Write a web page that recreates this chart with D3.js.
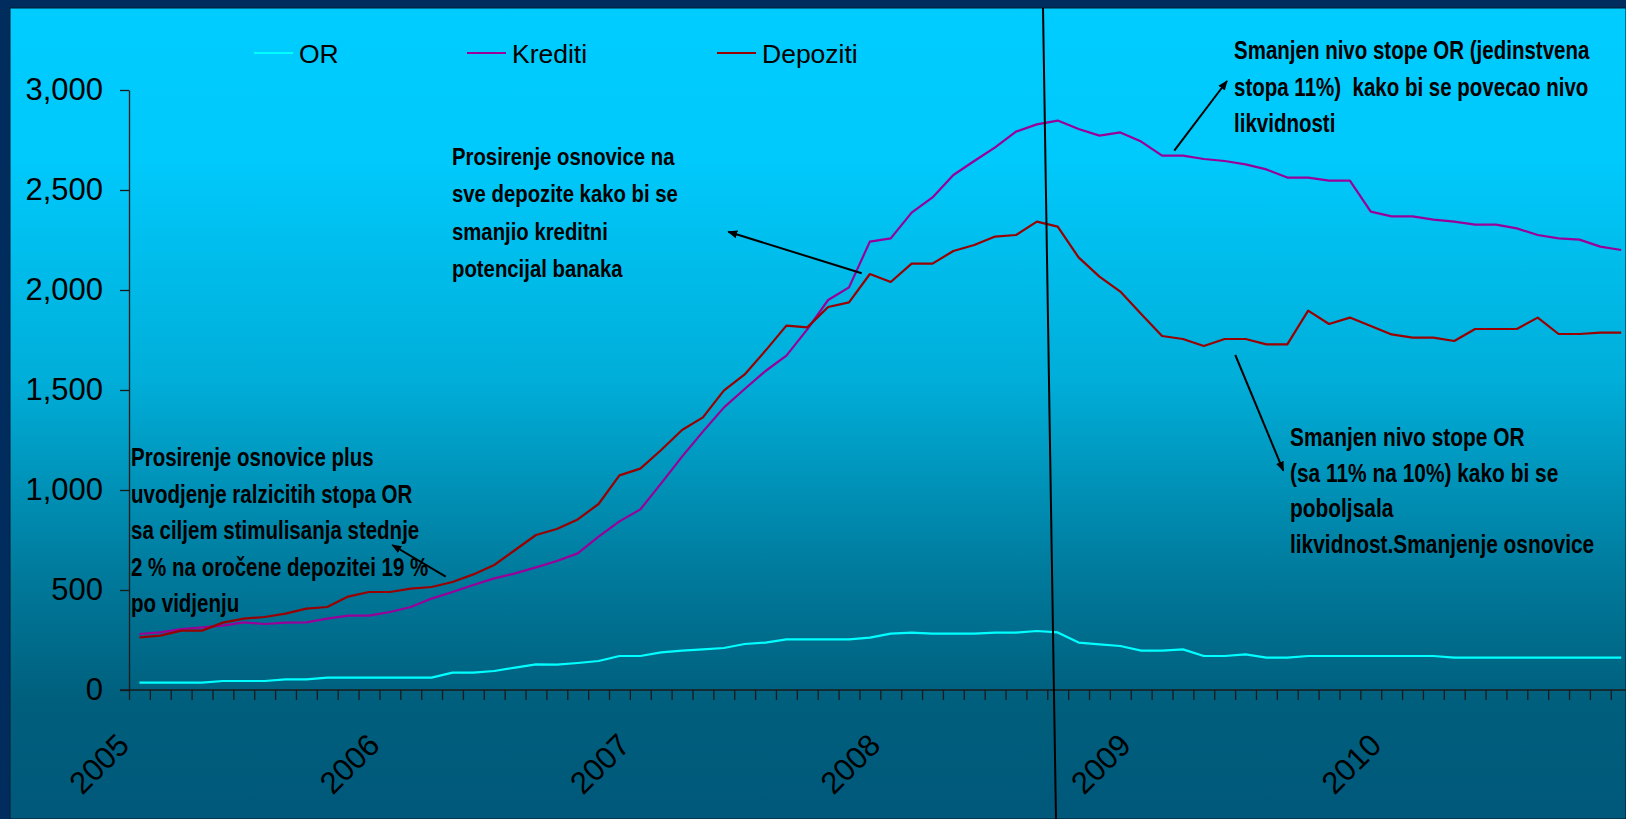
<!DOCTYPE html>
<html>
<head>
<meta charset="utf-8">
<script src="https://d3js.org/d3.v7.min.js"></script>
<style>
  html, body { margin: 0; padding: 0; background: #002d5e; overflow: hidden; }
  svg { display: block; }
  .ann { font-family: "Liberation Sans Narrow", "Liberation Sans", Arial, sans-serif; font-weight: bold; fill: #000; white-space: pre; }
  .reg { font-family: "Liberation Sans", Arial, sans-serif; fill: #000; }
</style>
</head>
<body>
<svg id="chart" width="1626" height="819"></svg>
<script>
// categories: monthly, Jan 2005 .. Dec 2010
const years = ['2005', '2006', '2007', '2008', '2009', '2010'];
const months = years.flatMap(y => d3.range(1, 13).map(m => y + '-' + String(m).padStart(2, '0')));

const orValues = [
  37, 37, 37, 37, 45, 45, 45, 53, 53, 62,
  62, 62, 62, 62, 62, 87, 87, 95, 112, 128,
  127, 135, 145, 170, 170, 188, 197, 203, 210, 230,
  237, 253, 253, 253, 253, 262, 282, 287, 282, 282,
  282, 287, 287, 295, 288, 237, 228, 220, 197, 197,
  203, 170, 170, 178, 162, 162, 170, 170, 170, 170,
  170, 170, 170, 162, 162, 162, 162, 162, 162, 162,
  162, 162
];
const krediti = [
  280, 288, 305, 313, 322, 338, 330, 337, 338, 357,
  372, 372, 390, 415, 457, 490, 525, 558, 583, 613,
  645, 683, 767, 843, 903, 1033, 1167, 1292, 1412, 1505,
  1595, 1672, 1803, 1950, 2013, 2242, 2258, 2387, 2463, 2575,
  2645, 2713, 2792, 2828, 2847, 2805, 2772, 2788, 2742, 2672,
  2672, 2655, 2645, 2628, 2603, 2562, 2562, 2547, 2547, 2392,
  2368, 2368, 2352, 2342, 2327, 2327, 2308, 2275, 2258, 2252,
  2217, 2200
];
const depoziti = [
  263, 272, 297, 297, 337, 357, 365, 382, 407, 415,
  467, 490, 490, 507, 515, 540, 578, 625, 700, 775,
  805, 853, 930, 1073, 1107, 1200, 1300, 1363, 1497, 1578,
  1697, 1822, 1813, 1915, 1938, 2080, 2040, 2132, 2132, 2195,
  2225, 2267, 2275, 2342, 2317, 2163, 2067, 1992, 1880, 1770,
  1755, 1720, 1755, 1755, 1728, 1728, 1897, 1830, 1862, 1820,
  1778, 1762, 1762, 1745, 1805, 1805, 1805, 1862, 1780, 1780,
  1787, 1787
];
const seriesNames = ['OR', 'Krediti', 'Depoziti'];
const seriesColors = ['#00ffff', '#990099', '#990000'];
const yTicks = [0, 500, 1000, 1500, 2000, 2500, 3000];

const annLeft = ['Prosirenje osnovice plus', 'uvodjenje ralzicitih stopa OR', 'sa ciljem stimulisanja stednje',
  '2 % na oročene depozitei 19 %', 'po vidjenju'];
const annMid = ['Prosirenje osnovice na', 'sve depozite kako bi se', 'smanjio kreditni', 'potencijal banaka'];
const annTopRight = ['Smanjen nivo stope OR (jedinstvena', 'stopa 11%)  kako bi se povecao nivo', 'likvidnosti'];
const annBottomRight = ['Smanjen nivo stope OR', '(sa 11% na 10%) kako bi se', 'poboljsala', 'likvidnost.Smanjenje osnovice'];

const W = 1626, H = 819;
const svg = d3.select('#chart');

// background: dark frame + gradient panel
const defs = svg.append('defs');
const grad = defs.append('linearGradient').attr('id', 'bg')
  .attr('gradientUnits', 'userSpaceOnUse').attr('x1', 0).attr('y1', 8).attr('x2', 0).attr('y2', H);
[[8, '#00ccff'], [160, '#00c9fb'], [380, '#00aed9'], [570, '#007b9d'], [700, '#005f7d'], [819, '#00587a']]
  .forEach(([o, c]) => grad.append('stop').attr('offset', (o - 8) / (H - 8)).attr('stop-color', c));

const mk = defs.append('marker').attr('id', 'arrow')
  .attr('viewBox', '0 0 10 10').attr('refX', 9).attr('refY', 5)
  .attr('markerWidth', 5).attr('markerHeight', 5).attr('orient', 'auto');
mk.append('path').attr('d', 'M0,1L10,5L0,9Z').attr('fill', '#000');

svg.append('rect').attr('width', W).attr('height', H).attr('fill', '#002d5e');
svg.append('rect').attr('x', 10).attr('y', 8).attr('width', W - 10).attr('height', H - 8)
  .attr('fill', 'url(#bg)').attr('stroke', '#001a33').attr('stroke-width', 1);

// scales
const plotLeft = 129, step = 20.87;
const x = d3.scaleBand().domain(months).range([plotLeft, plotLeft + step * months.length]).padding(0);
const xb = d3.scaleLinear().domain([0, months.length]).range([plotLeft, plotLeft + step * months.length]);
const y = d3.scaleLinear().domain([0, 3000]).range([690, 90]);

// y axis
const yAxis = svg.append('g').attr('transform', `translate(${plotLeft},0)`)
  .call(d3.axisLeft(y).tickValues(yTicks).tickSize(9).tickSizeOuter(0).tickPadding(17).tickFormat(d3.format(',')));
yAxis.selectAll('path, line').attr('stroke', '#1a1a1a').attr('stroke-width', 1.3);
yAxis.selectAll('text').attr('class', 'reg').attr('font-size', 31).attr('fill', '#000');

// x axis: ticks at category boundaries
const xAxis = svg.append('g').attr('transform', `translate(0,${y(0)})`)
  .call(d3.axisBottom(xb).tickValues(d3.range(0, months.length + 1)).tickSize(10).tickSizeOuter(0).tickFormat(''));
xAxis.select('.domain').attr('d', `M120,0H${W}`);
xAxis.selectAll('path, line').attr('stroke', '#1a1a1a').attr('stroke-width', 1.3);

// year labels
svg.append('g').selectAll('text').data(years).join('text')
  .attr('class', 'reg').attr('font-size', 31).attr('text-anchor', 'end')
  .attr('transform', (d, i) => `translate(${xb(i * 12) + 2},747) rotate(-45)`)
  .text(d => d);

// lines
const seriesData = [orValues, krediti, depoziti];
const line = d3.line().x((d, i) => x(months[i]) + x.bandwidth() / 2).y(d => y(d));
svg.append('g').selectAll('path').data(seriesData).join('path')
  .attr('d', line).attr('fill', 'none')
  .attr('stroke', (d, i) => seriesColors[i]).attr('stroke-width', 2.2).attr('stroke-linejoin', 'round');

// legend
const legendX = [254, 467, 717];
const lg = svg.append('g').selectAll('g').data(seriesNames).join('g')
  .attr('transform', (d, i) => `translate(${legendX[i]},53)`);
lg.append('line').attr('x1', 0).attr('x2', 39).attr('stroke', (d, i) => seriesColors[i]).attr('stroke-width', 2);
lg.append('text').attr('class', 'reg').attr('x', 45).attr('y', 9.5).attr('font-size', 26.5).text(d => d);

// annotations (bold, horizontally condensed like Arial Narrow)
function block(lines, x0, y0, size, gap) {
  svg.append('g').selectAll('text').data(lines).join('text')
    .attr('class', 'ann').attr('font-size', size)
    .attr('transform', (d, i) => `translate(${x0},${y0 + i * gap}) scale(0.82,1)`)
    .text(d => d);
}
block(annMid, 452, 165, 24.8, 37.4);
block(annLeft, 131, 466, 25, 36.6);
block(annTopRight, 1234, 59, 25, 36.7);
block(annBottomRight, 1290, 446, 25.5, 35.6);

// arrows
const arrows = [
  [861.7, 273.3, 728.3, 231.7],
  [445.7, 576.7, 392.3, 545],
  [1174.3, 150.7, 1227, 81],
  [1235.3, 355, 1283.3, 470.7]
];
svg.append('g').selectAll('line').data(arrows).join('line')
  .attr('x1', d => d[0]).attr('y1', d => d[1]).attr('x2', d => d[2]).attr('y2', d => d[3])
  .attr('stroke', '#000').attr('stroke-width', 2).attr('marker-end', 'url(#arrow)');

// vertical marker line
svg.append('line').attr('x1', 1043).attr('y1', 8).attr('x2', 1056).attr('y2', H)
  .attr('stroke', '#000').attr('stroke-width', 2);
</script>
</body>
</html>
